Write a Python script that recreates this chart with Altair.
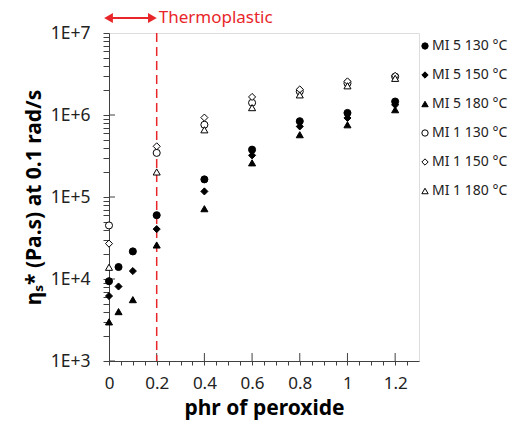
import altair as alt
import pandas as pd

phr_mi5 = [0, 0.04, 0.1, 0.2, 0.4, 0.6, 0.8, 1.0, 1.2]
mi5_130 = [9400, 14000, 21700, 60000, 164000, 378000, 840000, 1060000, 1460000]
mi5_150 = [6200, 8100, 12500, 40600, 117000, 322000, 725000, 920000, 1330000]
mi5_180 = [3000, 4000, 5600, 26000, 72000, 261000, 575000, 760000, 1160000]

phr_mi1 = [0, 0.2, 0.4, 0.6, 0.8, 1.0, 1.2]
mi1_130 = [45000, 345000, 760000, 1410000, 1940000, 2440000, 2940000]
mi1_150 = [27000, 415000, 930000, 1660000, 2050000, 2570000, 3000000]
mi1_180 = [13900, 202000, 660000, 1230000, 1760000, 2270000, 2800000]

series_names = ["MI 5 130 °C", "MI 5 150 °C", "MI 5 180 °C",
                "MI 1 130 °C", "MI 1 150 °C", "MI 1 180 °C"]
series_shapes = ["circle", "diamond", "triangle-up", "circle", "diamond", "triangle-up"]
series_fills = ["black", "black", "black", "white", "white", "white"]
series_strokes = ["black"] * 6

x_major = [0, 0.2, 0.4, 0.6, 0.8, 1.0, 1.2]
x_minor = [0.05, 0.1, 0.15, 0.25, 0.3, 0.35, 0.45, 0.5, 0.55, 0.65, 0.7, 0.75,
           0.85, 0.9, 0.95, 1.05, 1.1, 1.15, 1.25]
y_major = [1e3, 1e4, 1e5, 1e6, 1e7]
y_minor = [m * 10 ** e for e in range(3, 7) for m in range(2, 10)]

thermo_limit = [0.2]
arrow_span = [0.0, 0.18]
annot_text = "Thermoplastic"

rows = []
for name, xs, ys in [(series_names[0], phr_mi5, mi5_130),
                     (series_names[1], phr_mi5, mi5_150),
                     (series_names[2], phr_mi5, mi5_180),
                     (series_names[3], phr_mi1, mi1_130),
                     (series_names[4], phr_mi1, mi1_150),
                     (series_names[5], phr_mi1, mi1_180)]:
    for xv, yv in zip(xs, ys):
        rows.append({"phr": xv, "eta": yv, "series": name})
df = pd.DataFrame(rows)

FONT = "Noto Sans"
AX = "#404040"
RED = "#e8262a"
W, H = 310, 328

xscale = alt.Scale(domain=[0, 1.3], nice=False, zero=False)
yscale = alt.Scale(type="log", domain=[1e3, 1e7], nice=False)

x_is_major = "abs(datum.value * 5 - round(datum.value * 5)) < 1e-6"
y_dec = "log(datum.value) / LN10"
y_is_major = f"abs({y_dec} - round({y_dec})) < 1e-6"

points = alt.Chart(df).mark_point(filled=True, size=50, strokeWidth=1, opacity=1).encode(
    x=alt.X("phr:Q", scale=xscale,
            axis=alt.Axis(orient="bottom", values=sorted(x_major + x_minor), title="phr of peroxide",
                          labelExpr=f"{x_is_major} ? (datum.value == 0 ? '0' : format(datum.value, '.1~f')) : ''",
                          labelFlush=False, labelOverlap=False,
                          grid=False, tickSize=4, labelPadding=10, domainColor=AX, tickColor=AX,
                          labelFont=FONT, labelFontSize=17, labelColor="#222",
                          titleFont=FONT, titleFontSize=21, titleFontWeight="bold", titleColor="black",
                          titlePadding=6)),
    y=alt.Y("eta:Q", scale=yscale,
            axis=alt.Axis(orient="left", values=sorted(y_major + y_minor),
                          labelExpr=f"{y_is_major} ? '1E+' + round({y_dec}) : ''",
                          labelFlush=False, labelOverlap=False,
                          title="ηₛ* (Pa.s) at 0.1 rad/s", grid=False, tickSize=6, labelPadding=13,
                          domainColor=AX, tickColor=AX, labelFont=FONT, labelFontSize=17.5, labelColor="#222",
                          titleFont=FONT, titleFontSize=21, titleFontWeight="bold", titleColor="black",
                          titlePadding=6)),
    shape=alt.Shape("series:N", scale=alt.Scale(domain=series_names, range=series_shapes),
                    legend=alt.Legend(title=None, orient="none", legendX=309, legendY=6,
                                      labelFont=FONT, labelFontSize=14, labelColor="#222",
                                      symbolSize=40, rowPadding=15,
                                      symbolStrokeWidth=1, labelOffset=0)),
    fill=alt.Fill("series:N", scale=alt.Scale(domain=series_names, range=series_fills), legend=None),
    stroke=alt.Stroke("series:N", scale=alt.Scale(domain=series_names, range=series_strokes), legend=None),
)

# inner ticks at the major positions
def tick_layer(values, chan, scale, a, b):
    d = pd.DataFrame({"v": values})
    base = alt.Chart(d).mark_rule(strokeWidth=1, opacity=1)
    if chan == "x":
        return base.encode(x=alt.X("v:Q", scale=scale, axis=None), y=alt.value(a), y2=alt.value(b),
                           stroke=alt.value(AX))
    return base.encode(y=alt.Y("v:Q", scale=scale, axis=None), x=alt.value(a), x2=alt.value(b),
                       stroke=alt.value(AX))

xinner = tick_layer(x_major[1:], "x", xscale, H - 8, H)
yinner = tick_layer(y_major[:-1], "y", yscale, 0, 6)

limit_df = pd.DataFrame({"x": thermo_limit})
vline = alt.Chart(limit_df).mark_rule(strokeWidth=1.5, strokeDash=[9, 5]).encode(
    x=alt.X("x:Q", scale=xscale, axis=None), stroke=alt.value(RED))

arrow_df = pd.DataFrame({"x": [arrow_span[0]], "x2": [arrow_span[1]]})
arrow_line = alt.Chart(arrow_df).mark_rule(strokeWidth=2).encode(
    x=alt.X("x:Q", scale=xscale, axis=None), x2="x2:Q", y=alt.value(-15), stroke=alt.value(RED))
heads_df = pd.DataFrame({"x": arrow_span, "s": ["triangle-left", "triangle-right"]})
arrow_heads = alt.Chart(heads_df).mark_point(filled=True, size=45, opacity=1).encode(
    x=alt.X("x:Q", scale=xscale, axis=None), y=alt.value(-15),
    shape=alt.Shape("s:N", scale=None), fill=alt.value(RED), stroke=alt.value(RED))

label_df = pd.DataFrame({"x": thermo_limit, "t": [annot_text]})
label = alt.Chart(label_df).mark_text(align="left", baseline="middle", dx=2, font=FONT, fontSize=17,
                                      color=RED).encode(
    x=alt.X("x:Q", scale=xscale, axis=None), y=alt.value(-15), text="t:N")

chart = alt.layer(xinner, yinner, vline, points, arrow_line, arrow_heads, label).resolve_axis(
    x="independent", y="independent"
).properties(
    width=W, height=H,
    autosize=alt.AutoSizeParams(type="none"),
    padding={"left": 109, "top": 33, "right": 112, "bottom": 64},
).configure_view(stroke=AX, strokeWidth=1).configure(background="white")

chart.save("out.html", embed_options={"renderer": "svg", "actions": False})
